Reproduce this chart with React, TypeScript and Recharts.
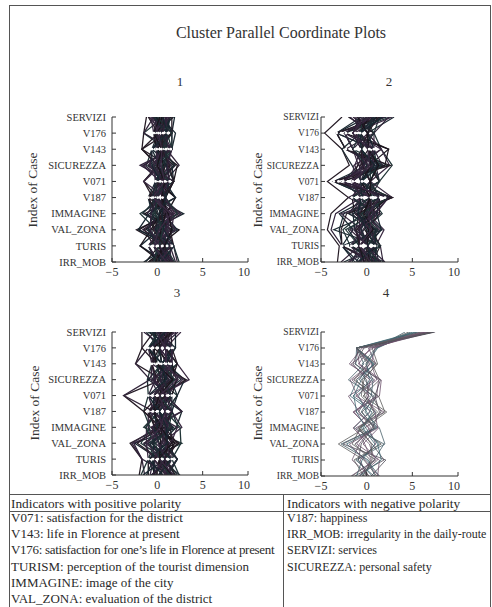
import React from 'react';
import { LineChart, Line, XAxis, YAxis, ReferenceLine } from 'recharts';

const VARS = ['SERVIZI', 'V176', 'V143', 'SICUREZZA', 'V071', 'V187', 'IMMAGINE', 'VAL_ZONA', 'TURIS', 'IRR_MOB'];
const X_TICKS = [-5, 0, 5, 10];
const Y_TICKS = [0, 1, 2, 3, 4, 5, 6, 7, 8, 9];

// Cluster 1 cases: values in VARS order
const P1: number[][] = [
  [0.2, 0.6, 1.0, -0.5, 0.8, 0.0, 1.2, -0.3, 0.8, 0.5],
  [1.1, -0.4, 0.5, 1.4, -0.2, 0.9, -0.8, 1.5, -0.4, 1.2],
  [-0.6, 1.1, -0.1, 0.3, 1.3, -0.5, 0.6, -1.2, 1.4, -0.2],
  [0.8, 1.6, 1.6, 0.9, 0.3, 0.5, 2.1, 0.4, 0.2, 1.8],
  [1.7, 0.1, -0.6, -1.2, 1.8, -1.0, -0.3, 0.9, -1.0, 0.1],
  [-1.2, -1.5, -1.7, 0.0, -1.5, 0.0, 1.5, -2.3, 0.8, -0.9],
  [0.5, 0.6, 1.0, 2.4, 0.8, 0.9, 0.2, 1.1, 1.8, 2.2],
  [1.4, 1.1, 0.5, -0.3, -0.2, -0.5, 2.9, -0.6, -0.4, 0.6],
  [-0.3, 0.1, -0.1, 1.8, 0.3, 2.0, -1.4, 2.4, 0.2, -1.3],
  [0.0, -0.4, 1.6, -1.9, 1.3, 0.5, 0.9, -1.6, 1.4, 1.5],
  [1.9, 1.6, 0.5, 0.6, -0.2, -1.0, -0.6, 0.2, -1.9, 0.9],
  [-0.9, 0.6, -0.6, -0.8, 0.8, 0.0, 1.8, 1.6, 0.8, -0.5],
  [0.7, -1.5, 1.0, 1.1, 1.8, 0.9, -1.9, -0.1, 1.8, 2.4],
  [1.2, 1.1, -1.7, 0.1, -1.5, -0.5, 0.4, 0.7, -1.0, -0.1],
  [-0.1, 0.1, 0.5, 2.0, 0.3, 0.5, 2.4, -0.9, 0.2, 1.0],
  [0.4, 2.0, 1.6, -0.6, 1.3, -1.0, -0.1, 1.9, -0.4, 0.3],
  [1.5, -0.4, -0.1, 0.7, -0.2, 2.0, 1.0, -2.0, 1.4, -1.0],
  [-0.5, 0.6, 1.0, -1.4, 0.8, 0.0, -1.1, 0.5, 0.8, 1.7],
  [0.9, 1.6, -0.6, 1.6, 1.8, 0.5, 0.7, 2.2, -1.0, 0.0],
  [0.1, -0.4, 0.5, 0.4, -1.5, 0.9, 1.9, -0.4, 1.8, 0.8],
  [1.0, 1.1, 1.6, -0.1, 0.3, -0.5, -0.5, 1.2, 0.2, -0.6],
  [-1.0, 0.1, -1.7, 1.2, 1.3, -1.0, 1.3, -1.4, -0.4, 1.3],
  [0.6, 0.6, 0.5, -1.0, 0.8, 0.5, 2.6, 0.0, 1.4, 2.0],
  [1.8, -0.4, 1.0, 0.8, -0.2, 0.0, -1.6, 1.7, 0.8, -0.3],
  [-0.2, 1.6, -0.1, 2.2, 1.8, 0.9, 0.3, -0.7, -1.9, 0.4],
  [0.3, 0.1, 1.6, -1.6, 0.3, -0.5, 1.6, 0.8, 0.2, 1.1],
  [1.3, 1.1, -0.6, 0.2, 0.8, 2.0, -0.9, -2.1, 1.4, -1.5],
  [-0.7, -0.4, 0.5, 1.5, -0.2, 0.0, 0.8, 2.0, -0.4, 0.7],
  [0.9, 0.6, 1.0, -0.2, 1.3, 0.9, 2.2, -0.2, 0.8, 1.9],
  [1.6, 1.6, -0.1, 0.9, 0.3, -1.0, 0.0, 1.4, 1.8, -0.8],
  [-0.4, -1.5, 1.6, -0.9, 1.8, 0.5, 1.1, 0.3, -1.0, 0.2],
  [0.2, 1.1, 0.5, 1.9, -0.2, 0.0, -0.4, -1.0, 0.2, 1.4],
  [0.5, 0.1, 0.5, 0.6, 0.8, 0.5, 0.9, 0.4, 0.2, 0.6],
  [0.9, 1.1, 1.0, 0.2, 0.3, 0.0, 1.4, 0.9, 0.8, 1.1],
  [-0.2, 0.6, -0.1, 1.0, 1.3, 0.9, 0.2, -0.2, 1.4, 0.0],
  [1.2, -0.4, 0.5, -0.4, -0.2, -0.5, 1.1, 1.3, -0.4, 0.8],
  [0.0, 1.6, 1.6, 0.5, 0.8, 0.0, -0.2, 0.6, 0.2, -0.4],
  [0.7, 0.6, 0.5, 1.3, 1.8, 0.5, 0.6, -0.5, 0.8, 1.4],
  [1.4, 0.1, -0.1, -0.1, 0.3, 0.9, 1.7, 1.0, 1.4, 0.3],
  [-0.4, 1.1, 1.0, 0.8, -0.2, -0.5, 0.1, 0.1, -0.4, 0.9],
  [0.3, -0.4, 0.5, 0.0, 0.8, 0.5, 1.2, 1.6, 0.8, -0.2],
  [1.0, 0.6, 1.6, 1.1, 1.3, 0.0, -0.7, -0.8, 0.2, 1.6],
  [0.6, 1.1, -0.6, -0.6, 0.3, 0.9, 0.5, 0.7, 1.8, 0.5],
  [-0.6, 0.1, 0.5, 0.4, 0.8, -0.5, 1.5, 0.2, -0.4, 1.0],
];

// Cluster 2 cases
const P2: number[][] = [
  [0.5, -1.5, -0.6, 0.8, -1.6, 0.4, -0.8, -1.2, -0.8, 0.2],
  [-1.2, 0.1, 0.8, -0.5, 0.4, -1.6, 0.9, 0.6, 1.0, -1.0],
  [2.2, -3.3, -2.3, 1.9, -3.6, 1.4, -2.5, -3.0, -2.7, 1.1],
  [-0.3, -0.7, 0.2, 0.0, -0.6, 2.4, -0.2, 1.5, 0.1, -0.4],
  [1.4, 0.8, 1.6, 2.8, 1.4, 0.4, 1.7, -0.3, -1.8, 0.8],
  [-2.7, -4.6, -2.7, -1.9, -4.3, -2.0, -3.9, -4.3, -3.0, -3.2],
  [0.9, -2.4, -1.5, -0.9, -2.6, -0.6, -1.6, 0.3, 1.5, 1.8],
  [3.0, 0.1, 0.2, 1.2, 0.4, 1.4, 0.5, -2.0, -0.8, -1.6],
  [-0.8, -1.5, 2.4, 0.3, -1.6, 2.8, -1.1, 1.0, 1.0, 0.5],
  [1.8, -0.7, -0.6, -1.3, -0.6, -1.6, 1.2, -0.9, 0.1, 2.0],
  [0.1, -3.3, -2.3, 1.5, -3.6, 0.4, -3.0, -1.5, -2.7, -0.9],
  [-1.5, 0.8, 0.8, 0.5, 1.4, -0.6, 0.2, 1.9, 1.0, -1.9],
  [2.6, -2.4, -1.5, 2.3, -2.6, 2.4, -0.5, -2.6, -1.8, 1.4],
  [0.6, 0.1, 1.6, -0.7, 0.4, 1.4, 1.4, 0.0, 0.1, -0.2],
  [-0.5, -1.5, 0.2, 0.9, -1.6, -0.6, -2.0, 1.2, -0.8, 0.9],
  [1.1, -0.7, -2.7, -1.6, -0.6, 0.4, 0.6, -3.6, 1.5, -2.5],
  [-2.0, 0.8, -0.6, 0.1, 1.4, -1.6, -1.3, 0.8, -1.8, 1.6],
  [2.0, -3.3, 0.8, 1.7, -3.6, 2.4, 1.0, -1.0, 1.0, 0.0],
  [0.3, -2.4, -1.5, -0.3, -2.6, 0.4, -0.1, 1.7, -2.7, -1.3],
  [-1.0, 0.1, 1.6, 2.5, 0.4, 2.8, -2.8, -0.5, 0.1, 1.2],
  [1.6, -0.7, -0.6, 0.6, -0.6, -0.6, 0.9, -2.3, -0.8, -0.6],
  [0.0, -1.5, 0.2, -1.0, -1.6, 1.4, -0.7, 0.5, 1.5, 0.6],
  [2.4, 0.8, -2.3, 1.0, 1.4, -2.0, 1.5, -1.8, 0.1, -2.0],
  [-0.6, -3.3, 0.8, 0.2, -3.6, 0.4, -1.9, 1.1, -1.8, 1.9],
  [1.2, -2.4, 2.4, 2.0, -2.6, 2.4, 0.3, -0.2, 1.0, -0.3],
  [-1.8, 0.1, -1.5, -0.4, 0.4, -0.6, -3.4, -3.9, -2.7, 0.4],
  [0.8, -0.7, 0.2, 1.4, -0.6, 1.4, 1.1, 1.6, 0.1, -1.2],
  [2.8, -1.5, 1.6, -1.4, -1.6, 0.4, -0.9, -0.7, -0.8, 1.0],
  [-0.2, 0.8, -0.6, 0.7, 1.4, -1.6, 0.8, 0.2, 1.5, -0.8],
  [1.5, -3.3, -2.3, 2.6, -3.6, 2.8, -2.2, -2.8, -2.7, 0.7],
  [-1.3, -0.7, 0.8, -0.8, -0.6, 0.4, 0.0, 1.3, -0.8, -2.8],
  [0.7, 0.1, 0.2, 0.4, 0.4, 1.4, -1.5, -1.3, 1.0, 1.3],
  [0.2, -0.7, 0.2, 0.5, -0.6, 0.4, -0.4, 0.2, 0.1, 0.3],
  [-0.7, -1.5, -0.6, -0.2, -1.6, 1.4, 0.3, -0.8, -0.8, -0.5],
  [1.0, 0.1, 0.8, 1.1, 0.4, -0.6, -1.0, 0.9, 1.0, 0.9],
  [0.4, -2.4, -1.5, 0.2, -2.6, 0.4, 0.7, -0.4, -1.8, -0.1],
  [-0.4, -0.7, 0.2, 1.6, -0.6, 2.4, -0.6, 1.2, 0.1, 1.1],
  [1.3, 0.1, -0.6, -0.5, 0.4, 0.4, 0.4, -1.1, -0.8, 0.2],
  [0.0, -1.5, 0.8, 0.6, -1.6, -0.6, -1.2, 0.4, 1.0, -0.7],
  [0.8, -0.7, -1.5, 0.0, -0.6, 1.4, 0.1, -0.6, 0.1, 0.6],
  [-1.0, 0.1, 0.2, 1.3, 0.4, 0.4, -0.3, 0.7, -0.8, -0.3],
  [0.6, -2.4, 0.8, -0.3, -2.6, 2.4, 0.8, -1.4, 0.1, 1.5],
  [1.7, -0.7, -0.6, 0.9, -0.6, -0.6, -0.9, 0.0, 1.0, -0.9],
  [-0.3, -1.5, 0.2, 0.3, -1.6, 1.4, 0.2, 0.5, -0.8, 0.4],
];

// Cluster 3 cases
const P3: number[][] = [
  [0.3, 0.2, 1.0, -0.4, 0.9, -0.4, 1.1, -0.6, 0.9, 0.4],
  [1.2, -1.0, -0.1, 1.6, -0.4, 0.9, -0.5, 1.4, -0.4, 1.3],
  [-0.8, 1.6, 0.5, 0.2, 1.6, -1.0, 0.7, -1.4, 1.6, -0.6],
  [2.6, 0.9, 2.2, 3.5, 0.2, 1.6, 2.7, 0.5, 0.2, 2.5],
  [0.7, -0.4, -0.6, -1.1, -1.0, 0.2, -1.5, 2.7, -1.0, -0.2],
  [-1.7, -1.7, -2.4, 0.5, -3.7, -1.5, 0.4, -3.0, -1.7, -2.0],
  [1.7, 0.2, 1.6, 2.3, 0.9, 2.7, -0.2, 1.0, 2.2, 0.8],
  [0.0, 1.6, 0.5, -0.6, 1.6, -0.4, 1.8, -1.0, 0.9, 1.9],
  [1.0, -1.0, -0.1, 1.2, -0.4, 0.9, 0.2, 2.0, -1.0, -1.0],
  [-0.5, 0.9, 1.6, 0.0, 0.2, -1.0, -1.0, -0.2, 1.6, 0.1],
  [2.0, 2.0, 1.0, 3.0, 2.2, 1.6, 2.3, -2.5, 0.2, 1.5],
  [0.5, -0.4, -0.6, -0.3, 0.9, 0.2, 0.9, 0.8, -0.4, -0.8],
  [-1.2, 0.2, 0.5, 1.8, -1.0, -1.5, -0.8, -1.8, 0.9, 2.2],
  [1.5, 1.6, 2.2, 0.7, 1.6, 0.9, 1.4, 1.7, 1.6, 0.2],
  [0.2, -1.0, -2.4, -0.8, -3.7, -0.4, 0.0, -2.8, -1.7, -1.4],
  [0.9, 0.9, 1.0, 2.6, 0.2, 2.7, 2.1, 0.3, 2.2, 1.1],
  [-0.2, -0.4, -0.1, 0.4, 0.9, -1.0, -0.3, 2.4, -0.4, -0.4],
  [2.3, 0.2, 1.6, 1.4, -0.4, 0.2, 1.2, -0.5, 0.2, 1.7],
  [-1.0, 1.6, 0.5, -1.0, 1.6, 1.6, 0.5, 1.2, 0.9, -1.6],
  [1.3, -1.0, -0.6, 2.0, -1.0, -0.4, -1.2, -1.2, -1.0, 0.6],
  [0.6, 0.9, 2.2, 0.1, 2.2, 0.9, 2.5, 2.6, 1.6, 2.4],
  [-0.4, -1.7, -0.1, 3.2, 0.2, -1.5, 0.3, -2.2, 0.2, -0.1],
  [1.8, 0.2, 1.0, -0.5, 0.9, 2.7, -0.7, 0.6, 2.2, 1.0],
  [0.1, 2.0, 0.5, 0.9, -0.4, 0.2, 1.6, -0.8, -0.4, -1.2],
  [1.1, -0.4, 1.6, 2.1, 1.6, -0.4, 0.1, 1.9, 0.9, 0.3],
  [-1.5, 0.9, -0.6, -0.2, -1.0, 1.6, 1.0, -2.6, -1.7, 1.4],
  [0.8, 1.6, 1.0, 1.0, 0.2, 0.9, -0.4, 0.2, 1.6, -0.7],
  [2.1, -1.0, 0.5, 2.8, 0.9, -1.0, 2.2, 1.5, 0.2, 0.9],
  [-0.6, 0.2, -0.1, 0.3, 1.6, 0.2, -1.3, -0.3, -1.0, -1.8],
  [1.4, 0.9, 2.2, 1.6, -0.4, 1.6, 0.8, 2.2, 0.9, 2.0],
  [0.4, -0.4, -0.6, -0.7, 0.2, -0.4, 1.5, -1.5, -0.4, 0.0],
  [-0.3, 1.6, 1.6, 1.5, 2.2, 0.9, -0.1, 0.9, 2.2, 1.2],
  [0.4, 0.2, 0.5, 0.8, 0.2, 0.2, 0.6, 0.3, 0.2, 0.5],
  [1.0, 0.9, 1.0, 0.3, 0.9, 0.9, 1.2, 1.0, 0.9, 1.0],
  [-0.3, -0.4, -0.1, 1.3, -0.4, -0.4, 0.0, -0.4, -0.4, -0.3],
  [0.8, 1.6, 1.6, 0.5, 1.6, 0.2, 0.5, 0.8, 1.6, 0.7],
  [0.2, -1.0, 0.5, 1.9, 0.2, 1.6, 1.3, -0.2, 0.2, 1.3],
  [1.3, 0.2, -0.6, 0.0, 0.9, -1.0, -0.2, 1.2, 0.9, -0.4],
  [0.6, 0.9, 1.0, 1.2, -0.4, 0.9, 0.9, 0.5, -0.4, 0.9],
  [-0.5, 0.2, 0.5, 0.6, 1.6, 0.2, 1.7, -0.7, 1.6, 0.2],
  [1.6, -0.4, -0.1, 1.7, 0.2, -0.4, 0.4, 1.6, 0.2, 1.6],
  [0.1, 1.6, 1.6, -0.4, 0.9, 1.6, -0.6, 0.1, 0.9, -0.6],
  [0.9, -1.0, 0.5, 0.9, -1.0, 0.2, 1.0, 1.1, -1.0, 0.6],
  [-0.1, 0.9, 1.0, 2.2, 0.2, 0.9, 0.3, -1.1, 0.2, 1.8],
];

// Cluster 4 cases
const P4: number[][] = [
  [7.4, -1.1, 0.3, -0.8, 1.2, -0.5, 0.8, -1.3, 0.4, -0.2],
  [6.8, -1.1, -1.2, 0.6, -1.5, 1.0, -0.6, 1.4, -1.0, 0.6],
  [5.5, 0.2, 1.0, -1.6, 0.3, -1.2, 1.3, -0.4, 1.2, -0.9],
  [7.0, -1.1, 0.6, 1.4, -0.4, 2.2, -0.2, -3.1, -0.3, 1.1],
  [4.2, 1.0, -0.5, -0.2, 1.0, 0.3, -1.4, 1.9, 0.8, -0.5],
  [6.2, -0.5, -1.9, 0.9, -2.0, -0.8, 0.5, -0.8, -1.6, 0.3],
  [7.2, -1.1, 0.9, -1.2, 0.6, 1.6, -1.0, 0.6, 1.9, -1.3],
  [5.0, 1.2, 0.0, 0.3, -0.9, 0.0, 1.1, -2.2, 0.0, 1.4],
  [6.5, -1.1, -0.8, 1.6, 1.4, -1.4, 0.2, 1.0, -0.7, 0.0],
  [4.6, 0.6, 1.2, -0.5, -0.2, 0.8, -0.7, -1.6, 1.0, -1.6],
  [7.3, -1.1, -0.3, -2.0, 0.8, -0.2, 1.4, 2.0, -1.2, 0.8],
  [5.8, 0.9, 0.5, 1.1, -1.2, 1.9, -1.2, -0.2, 0.5, -0.7],
  [6.9, -0.8, -1.5, 0.0, 0.2, -0.9, 0.9, -2.6, 2.1, 0.5],
  [5.3, -1.1, 0.8, -1.0, -1.8, 0.6, -0.4, 0.9, -0.5, -1.1],
  [7.1, 0.4, -0.9, 1.3, 1.1, -1.5, 0.3, -1.1, 1.4, 1.2],
  [6.0, -1.1, 1.1, -0.3, -0.6, 1.2, -0.9, 1.6, -1.4, -0.3],
  [4.8, 1.1, -0.1, 0.7, 0.5, -0.6, 1.0, -2.8, 0.2, 0.9],
  [6.6, -1.1, 0.4, -1.8, -1.0, 0.4, -1.5, 0.3, 0.9, -1.7],
  [7.5, -0.3, -1.3, 1.5, 0.9, 1.4, 0.6, -0.6, -0.9, 0.2],
  [5.6, -1.1, 0.7, -0.6, -1.4, -1.1, -0.1, 1.2, 1.6, -0.8],
  [6.4, 0.7, -1.7, 0.4, 0.0, 0.9, 1.2, -1.9, -0.2, 1.3],
  [7.2, -1.1, 0.1, -1.4, 1.3, 2.0, -0.8, 0.5, 0.6, -0.4],
];

// white dotted rows: [variable index, from, to]
const DOTS1: number[][] = [[1, -0.4, 1.6], [2, -0.6, 1.6], [4, -0.2, 1.6], [5, -1.0, 0.9], [8, -1.0, 1.8]];
const DOTS2: number[][] = [[1, -3.3, 0.1], [2, -2.3, 0.8], [4, -3.6, 0.4], [5, -1.6, 2.4], [8, -2.7, 1.0]];
const DOTS3: number[][] = [[1, -1.0, 1.6], [2, -0.6, 1.6], [4, -1.0, 1.6], [5, -1.0, 1.2], [8, -1.0, 1.6]];
const DOTS4: number[][] = [];

const POSITIVE = [
  'V071: satisfaction for the district',
  'V143: life in Florence at present',
  'V176: satisfaction for one\u2019s life in Florence at present',
  'TURISM: perception of the tourist dimension',
  'IMMAGINE: image of the city',
  'VAL_ZONA: evaluation of the district',
];
const NEGATIVE = [
  'V187: happiness',
  'IRR_MOB: irregularity in the daily-route',
  'SERVIZI: services',
  'SICUREZZA: personal safety',
];

const DARK = ['#1a141c', '#30223a', '#182630', '#3a2a42', '#203436', '#261c26', '#33263b', '#1e2b33'];
const LIGHT = ['#4e4a55', '#3e6670', '#6b4f6a', '#5a5a5a', '#47606a', '#725a72'];

const FONT = 'Liberation Serif, Times New Roman, serif';

function YTick(props: any) {
  const { x, y, payload, fs } = props;
  return (
    <text x={x} y={y} dy="0.35em" textAnchor="end" fontSize={fs} fontFamily={FONT} fill="#333">
      {VARS[payload.value]}
    </text>
  );
}

function XTick(props: any) {
  const { x, y, payload } = props;
  return (
    <text x={x} y={y} dy="0.71em" textAnchor="middle" fontSize={12} fontFamily={FONT} fill="#333">
      {payload.value < 0 ? '\u2212' + Math.abs(payload.value) : String(payload.value)}
    </text>
  );
}

type PanelProps = {
  cases: number[][];
  dots: number[][];
  plotLeft: number;
  plotTop: number;
  plotW: number;
  plotH: number;
  labelSize: number;
  labelGap: number;
  colors: string[];
  sw: number;
};

function Panel(p: PanelProps) {
  const AX_W = 90;
  const mt = 10;
  const mr = 4;
  const xh = 26;
  const data = VARS.map((name, i) => {
    const row: Record<string, number | string> = { pos: i, name };
    p.cases.forEach((c, k) => {
      row['c' + k] = c[i];
    });
    return row;
  });
  return (
    <div style={{ position: 'absolute', left: p.plotLeft - AX_W, top: p.plotTop - mt }}>
      <LineChart
        width={AX_W + p.plotW + mr}
        height={mt + p.plotH + xh}
        data={data}
        layout="vertical"
        margin={{ top: mt, right: mr, bottom: 0, left: 0 }}
      >
        <XAxis
          type="number"
          domain={[-5, 10]}
          ticks={X_TICKS}
          allowDataOverflow
          height={xh}
          stroke="#333"
          tickSize={-4}
          tickMargin={9}
          tick={<XTick />}
        />
        <XAxis
          xAxisId="top"
          orientation="top"
          type="number"
          domain={[-5, 10]}
          ticks={X_TICKS}
          allowDataOverflow
          height={0}
          mirror
          tick={false}
          tickSize={4}
          stroke="#333"
        />
        <YAxis
          type="number"
          dataKey="pos"
          domain={[0, 9]}
          ticks={Y_TICKS}
          interval={0}
          allowDataOverflow
          width={AX_W}
          stroke="#333"
          tickSize={-4}
          tickMargin={4 + p.labelGap}
          tick={<YTick fs={p.labelSize} />}
        />
        <YAxis
          yAxisId="right"
          orientation="right"
          type="number"
          domain={[0, 9]}
          ticks={Y_TICKS}
          interval={0}
          allowDataOverflow
          width={0}
          mirror
          tick={false}
          tickSize={4}
          stroke="#333"
        />
        {p.cases.map((_, k) => (
          <Line
            key={k}
            dataKey={'c' + k}
            type="linear"
            stroke={p.colors[k % p.colors.length]}
            strokeWidth={p.sw}
            dot={false}
            activeDot={false}
            isAnimationActive={false}
          />
        ))}
        {p.dots.map((d, k) => (
          <ReferenceLine
            key={'d' + k}
            segment={[{ x: d[1], y: d[0] }, { x: d[2], y: d[0] }]}
            stroke="#ffffff"
            strokeWidth={2.8}
            strokeDasharray="0.1 4.6"
            strokeLinecap="round"
          />
        ))}
      </LineChart>
    </div>
  );
}

function YLabel({ cx, cy }: { cx: number; cy: number }) {
  return (
    <div
      style={{
        position: 'absolute',
        left: cx - 60,
        top: cy - 9,
        width: 120,
        height: 18,
        lineHeight: '18px',
        textAlign: 'center',
        fontSize: 13.5,
        color: '#333',
        transform: 'rotate(-90deg)',
        whiteSpace: 'nowrap',
      }}
    >
      Index of Case
    </div>
  );
}

function Num({ cx, cy, t }: { cx: number; cy: number; t: string }) {
  return (
    <div style={{ position: 'absolute', left: cx - 20, top: cy - 9, width: 40, textAlign: 'center', fontSize: 13, lineHeight: '18px', color: '#333' }}>
      {t}
    </div>
  );
}

export default function App() {
  const rowTop = (i: number) => 510 + i * 16.2;
  return (
    <div
      style={{
        position: 'absolute',
        left: 0,
        top: 0,
        width: 492,
        height: 607,
        background: '#ffffff',
        fontFamily: FONT,
        color: '#2a2a2a',
        overflow: 'hidden',
      }}
    >
      <div style={{ position: 'absolute', left: 9, top: 5, width: 480, height: 620, border: '1px solid #555' }} />
      <div style={{ position: 'absolute', left: 120, top: 23, width: 322, textAlign: 'center', fontSize: 16, lineHeight: '20px', color: '#333' }}>
        Cluster Parallel Coordinate Plots
      </div>

      <Num cx={180} cy={82} t="1" />
      <Num cx={389} cy={82} t="2" />
      <Num cx={177} cy={293} t="3" />
      <Num cx={386} cy={293} t="4" />

      <YLabel cx={33} cy={190} />
      <YLabel cx={258} cy={190} />
      <YLabel cx={35} cy={403} />
      <YLabel cx={258} cy={403} />

      <Panel cases={P1} dots={DOTS1} plotLeft={112} plotTop={117} plotW={136} plotH={145} labelSize={10.5} labelGap={6} colors={DARK} sw={1.3} />
      <Panel cases={P2} dots={DOTS2} plotLeft={321} plotTop={117} plotW={137} plotH={145} labelSize={9.5} labelGap={2} colors={DARK} sw={1.2} />
      <Panel cases={P3} dots={DOTS3} plotLeft={112} plotTop={332} plotW={136} plotH={143} labelSize={10.5} labelGap={6} colors={DARK} sw={1.3} />
      <Panel cases={P4} dots={DOTS4} plotLeft={321} plotTop={332} plotW={137} plotH={144} labelSize={9.5} labelGap={2} colors={LIGHT} sw={0.8} />

      <div style={{ position: 'absolute', left: 9, top: 494, width: 481, height: 1, background: '#555' }} />
      <div style={{ position: 'absolute', left: 9, top: 511, width: 481, height: 1, background: '#555' }} />
      <div style={{ position: 'absolute', left: 283, top: 494, width: 1, height: 120, background: '#555' }} />

      <div style={{ position: 'absolute', left: 11, top: 495.5, fontSize: 13.3, lineHeight: '16px', whiteSpace: 'nowrap' }}>
        Indicators with positive polarity
      </div>
      <div style={{ position: 'absolute', left: 287, top: 495.5, fontSize: 13.3, lineHeight: '16px', whiteSpace: 'nowrap' }}>
        Indicators with negative polarity
      </div>
      {POSITIVE.map((t, i) => (
        <div
          key={t}
          style={{
            position: 'absolute',
            left: 11,
            top: rowTop(i),
            fontSize: 13,
            lineHeight: '16px',
            whiteSpace: 'nowrap',
            letterSpacing: i === 2 ? '-0.3px' : undefined,
          }}
        >
          {t}
        </div>
      ))}
      {NEGATIVE.map((t, i) => (
        <div key={t} style={{ position: 'absolute', left: 287, top: rowTop(i), fontSize: 12, lineHeight: '16px', whiteSpace: 'nowrap' }}>
          {t}
        </div>
      ))}
    </div>
  );
}
